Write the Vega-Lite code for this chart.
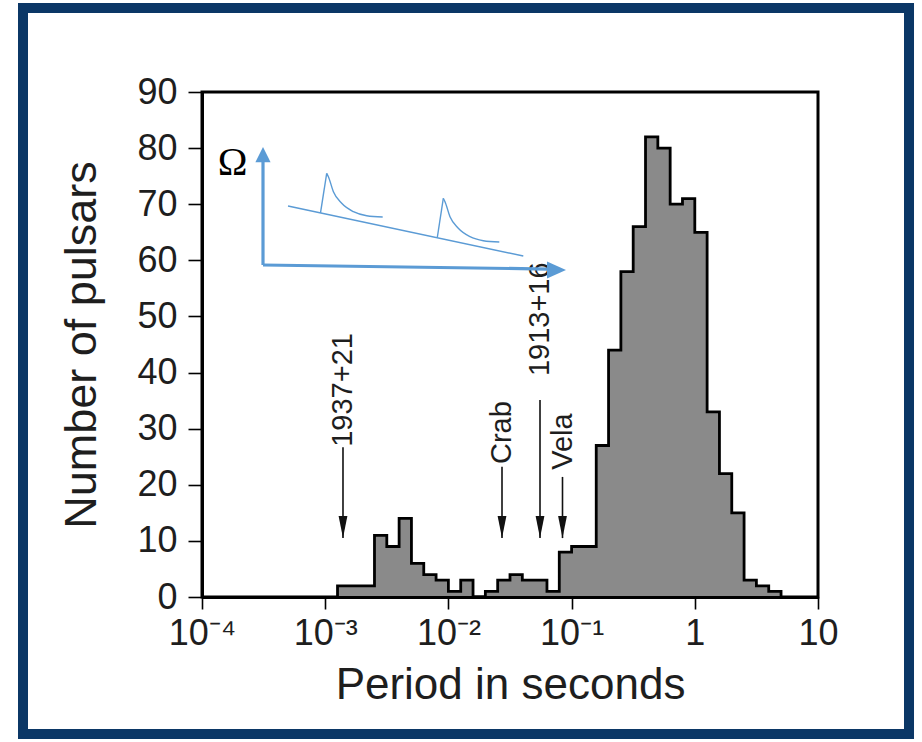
{
  "$schema": "https://vega.github.io/schema/vega-lite/v6.json",
  "width": 616,
  "height": 505,
  "autosize": "none",
  "padding": {"left": 202, "top": 92, "right": 104, "bottom": 145},
  "background": "white",
  "config": {
    "view": {"stroke": "black", "strokeWidth": 3},
    "font": "Liberation Sans",
    "axis": {"grid": false, "domainColor": "black", "domainWidth": 3, "tickColor": "black", "tickWidth": 1.6, "labelColor": "#1e1e1e", "titleColor": "#1e1e1e", "labelFont": "Liberation Sans", "titleFont": "Liberation Sans", "titleFontWeight": "normal"}
  },
  "datasets": {
    "frame": [{"p": 3.5245e-6, "p2": 54.79, "n": 104.97, "n2": -24.42}],
    "hist": [
      {"i": 0, "p": 0.0012589, "n": 0},
      {"i": 1, "p": 0.0012589, "n": 2},
      {"i": 2, "p": 0.0015849, "n": 2},
      {"i": 3, "p": 0.0019953, "n": 2},
      {"i": 4, "p": 0.0025119, "n": 11},
      {"i": 5, "p": 0.0031623, "n": 9},
      {"i": 6, "p": 0.0039811, "n": 14},
      {"i": 7, "p": 0.0050119, "n": 6},
      {"i": 8, "p": 0.0063096, "n": 4},
      {"i": 9, "p": 0.0079433, "n": 3},
      {"i": 10, "p": 0.01, "n": 1},
      {"i": 11, "p": 0.012589, "n": 3},
      {"i": 12, "p": 0.015849, "n": 0},
      {"i": 13, "p": 0.019953, "n": 1},
      {"i": 14, "p": 0.025119, "n": 3},
      {"i": 15, "p": 0.031623, "n": 4},
      {"i": 16, "p": 0.039811, "n": 3},
      {"i": 17, "p": 0.050119, "n": 3},
      {"i": 18, "p": 0.063096, "n": 1},
      {"i": 19, "p": 0.079433, "n": 8},
      {"i": 20, "p": 0.1, "n": 9},
      {"i": 21, "p": 0.12589, "n": 9},
      {"i": 22, "p": 0.15849, "n": 27},
      {"i": 23, "p": 0.19953, "n": 44},
      {"i": 24, "p": 0.25119, "n": 58},
      {"i": 25, "p": 0.31623, "n": 66},
      {"i": 26, "p": 0.39811, "n": 82},
      {"i": 27, "p": 0.50119, "n": 80},
      {"i": 28, "p": 0.63096, "n": 70},
      {"i": 29, "p": 0.79433, "n": 71},
      {"i": 30, "p": 1, "n": 65},
      {"i": 31, "p": 1.2589, "n": 33},
      {"i": 32, "p": 1.5849, "n": 22},
      {"i": 33, "p": 1.9953, "n": 15},
      {"i": 34, "p": 2.5119, "n": 3},
      {"i": 35, "p": 3.1623, "n": 2},
      {"i": 36, "p": 3.9811, "n": 1},
      {"i": 37, "p": 5.0119, "n": 0}
    ],
    "marks": [
      {"name": "1937+21", "p": 0.0013945, "n": 26.7, "tip": 10.5, "mid": 36.9},
      {"name": "Crab", "p": 0.027232, "n": 23.2, "tip": 10.5, "mid": 29.3},
      {"name": "1913+16", "p": 0.055404, "n": 35.1, "tip": 10.5, "mid": 49.5},
      {"name": "Vela", "p": 0.08436, "n": 21.4, "tip": 10.5, "mid": 27.7}
    ],
    "blueStraight": [
      {"seg": "d", "o": 0, "p": 4.990e-4, "n": 69.68},
      {"seg": "d", "o": 1, "p": 0.04055, "n": 60.77},
      {"seg": "g1", "o": 0, "p": 9.160e-4, "n": 68.45},
      {"seg": "g1", "o": 1, "p": 1.0284e-3, "n": 75.51},
      {"seg": "g2", "o": 0, "p": 8.126e-3, "n": 64.07},
      {"seg": "g2", "o": 1, "p": 9.092e-3, "n": 71.06}
    ],
    "blueCurve": [
      {"seg": "c1", "o": 0, "p": 1.0284e-3, "n": 75.51},
      {"seg": "c1", "o": 1, "p": 1.0616e-3, "n": 74.90},
      {"seg": "c1", "o": 2, "p": 1.1655e-3, "n": 72.23},
      {"seg": "c1", "o": 3, "p": 1.3611e-3, "n": 70.16},
      {"seg": "c1", "o": 4, "p": 1.6936e-3, "n": 68.67},
      {"seg": "c1", "o": 5, "p": 2.1723e-3, "n": 67.95},
      {"seg": "c1", "o": 6, "p": 2.9289e-3, "n": 67.72},
      {"seg": "c2", "o": 0, "p": 9.092e-3, "n": 71.06},
      {"seg": "c2", "o": 1, "p": 9.384e-3, "n": 70.45},
      {"seg": "c2", "o": 2, "p": 0.010304, "n": 67.78},
      {"seg": "c2", "o": 3, "p": 0.012031, "n": 65.71},
      {"seg": "c2", "o": 4, "p": 0.014973, "n": 64.21},
      {"seg": "c2", "o": 5, "p": 0.019197, "n": 63.50},
      {"seg": "c2", "o": 6, "p": 0.025890, "n": 63.27}
    ],
    "blueShafts": [
      {"seg": "v", "o": 0, "p": 3.127e-4, "n": 59.17},
      {"seg": "v", "o": 1, "p": 3.127e-4, "n": 77.6},
      {"seg": "h", "o": 0, "p": 3.127e-4, "n": 59.17},
      {"seg": "h", "o": 1, "p": 0.06432, "n": 58.45}
    ],
    "blueHeads": [
      {"dir": "up", "p": 3.127e-4, "n": 80.2},
      {"dir": "right", "p": 0.09005, "n": 58.28}
    ],
    "omega": [{"label": "Ω", "p": 1.768e-4, "n": 75.21}]
  },
  "encoding": {
    "x": {"field": "p", "type": "quantitative", "scale": {"type": "log", "domain": [0.0001, 10], "nice": false},
      "axis": {"values": [0.0001, 0.001, 0.01, 0.1, 1, 10], "labelExpr": "datum.value < 0.0005 ? '10⁻⁴' : datum.value < 0.005 ? '10⁻³' : datum.value < 0.05 ? '10⁻²' : datum.value < 0.5 ? '10⁻¹' : datum.value < 5 ? '1' : '10'", "labelFontSize": 36, "tickSize": 12, "labelPadding": 7, "title": "Period in seconds", "titleFontSize": 44, "titlePadding": 12, "labelFlush": false, "labelOverlap": false, "zindex": 1}},
    "y": {"field": "n", "type": "quantitative", "scale": {"domain": [0, 90], "nice": false},
      "axis": {"values": [0, 10, 20, 30, 40, 50, 60, 70, 80, 90], "labelFontSize": 36, "tickSize": 14, "labelPadding": 11, "title": "Number of pulsars", "titleFontSize": 45, "titlePadding": 32, "labelFlush": false, "labelOverlap": false, "zindex": 1}}
  },
  "layer": [
    {
      "data": {"name": "hist"},
      "mark": {"type": "area", "interpolate": "step-after", "fill": "#8a8a8a", "clip": false},
      "encoding": {"y": {"field": "n", "type": "quantitative", "stack": null}}
    },
    {
      "data": {"name": "hist"},
      "mark": {"type": "line", "interpolate": "step-after", "color": "black", "strokeWidth": 2.8, "clip": false},
      "encoding": {"order": {"field": "i"}}
    },
    {
      "data": {"name": "marks"},
      "mark": {"type": "rule", "color": "#111", "strokeWidth": 1.6, "clip": false},
      "encoding": {"y2": {"field": "tip"}}
    },
    {
      "data": {"name": "marks"},
      "mark": {"type": "point", "shape": "M0,0L-0.2,-1L0.2,-1Z", "size": 1936, "filled": true, "color": "#111", "opacity": 1, "clip": false},
      "encoding": {"y": {"field": "tip", "type": "quantitative"}}
    },
    {
      "data": {"name": "marks"},
      "mark": {"type": "text", "angle": 270, "align": "center", "baseline": "middle", "fontSize": 29, "font": "Liberation Sans", "color": "#1e1e1e", "clip": false},
      "encoding": {"y": {"field": "mid", "type": "quantitative"}, "text": {"field": "name"}}
    },
    {
      "data": {"name": "blueStraight"},
      "mark": {"type": "line", "color": "#5b9bd5", "strokeWidth": 1.4, "clip": false},
      "encoding": {"detail": {"field": "seg"}, "order": {"field": "o"}}
    },
    {
      "data": {"name": "blueCurve"},
      "mark": {"type": "line", "interpolate": "monotone", "color": "#5b9bd5", "strokeWidth": 1.4, "clip": false},
      "encoding": {"detail": {"field": "seg"}, "order": {"field": "o"}}
    },
    {
      "data": {"name": "blueShafts"},
      "mark": {"type": "line", "color": "#5b9bd5", "strokeWidth": 3.2, "clip": false},
      "encoding": {"detail": {"field": "seg"}, "order": {"field": "o"}}
    },
    {
      "data": {"name": "blueHeads"},
      "mark": {"type": "point", "size": 1444, "filled": true, "color": "#5b9bd5", "opacity": 1, "clip": false},
      "encoding": {
        "shape": {"field": "dir", "type": "nominal", "scale": {"domain": ["up", "right"], "range": ["M0,0L-0.4,0.8L0.4,0.8Z", "M0,0L-1,-0.45L-1,0.45Z"]}, "legend": null}
      }
    },
    {
      "data": {"name": "omega"},
      "mark": {"type": "text", "align": "center", "baseline": "alphabetic", "fontSize": 40, "font": "Liberation Serif", "color": "black", "clip": false},
      "encoding": {"text": {"field": "label"}}
    },
    {
      "data": {"name": "frame"},
      "mark": {"type": "rect", "fill": "transparent", "stroke": "#0b3766", "strokeWidth": 10, "clip": false},
      "encoding": {"x2": {"field": "p2"}, "y2": {"field": "n2"}}
    }
  ]
}
